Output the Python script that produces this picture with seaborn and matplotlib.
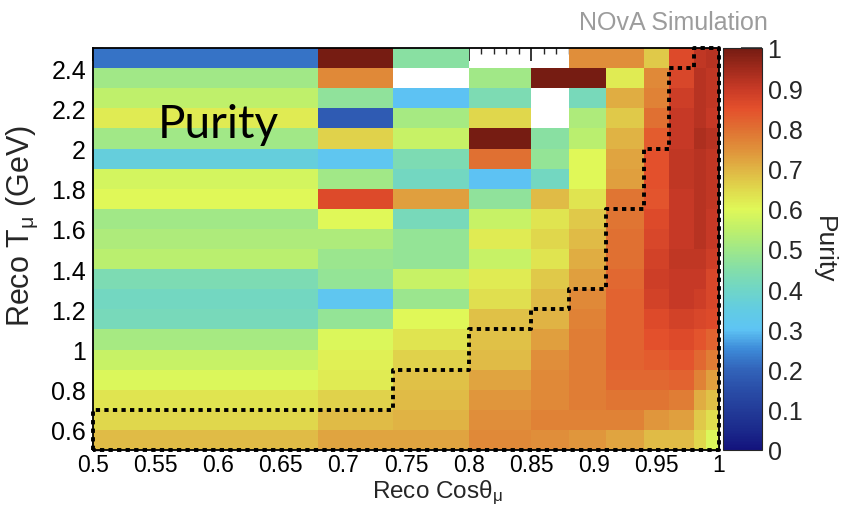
import numpy as np
import pandas as pd
import matplotlib
matplotlib.use("Agg")
import matplotlib.pyplot as plt
import seaborn as sns

# ---------------- data ----------------
# bin edges (Reco cos theta_mu), non-uniform
x_edges = [0.50, 0.68, 0.74, 0.80, 0.85, 0.88, 0.91, 0.94, 0.96, 0.98, 0.99, 1.00]
# bin edges (Reco T_mu in GeV)
y_edges = [0.5, 0.6, 0.7, 0.8, 0.9, 1.0, 1.1, 1.2, 1.3, 1.4, 1.5, 1.6, 1.7, 1.8,
           1.9, 2.0, 2.1, 2.2, 2.3, 2.4, 2.5]

nan = np.nan
# purity per bin, rows from top (2.4-2.5 GeV) to bottom (0.5-0.6 GeV)
purity_rows = [
    [0.22, 1.00, 0.46, nan,  nan,  0.75, 0.75, 0.67, 0.86, 0.91, 0.92],
    [0.50, 0.76, nan,  0.50, 1.00, 1.00, 0.62, 0.76, 0.87, 0.92, 0.91],
    [0.55, 0.47, 0.30, 0.43, nan,  0.42, 0.71, 0.77, 0.89, 0.92, 0.91],
    [0.62, 0.18, 0.51, 0.65, nan,  0.52, 0.67, 0.80, 0.90, 0.92, 0.90],
    [0.50, 0.66, 0.56, 1.00, 0.46, 0.54, 0.70, 0.83, 0.90, 0.93, 0.92],
    [0.36, 0.31, 0.43, 0.80, 0.48, 0.60, 0.72, 0.85, 0.91, 0.92, 0.91],
    [0.58, 0.50, 0.41, 0.30, 0.41, 0.60, 0.73, 0.85, 0.91, 0.92, 0.91],
    [0.60, 0.86, 0.73, 0.47, 0.69, 0.63, 0.79, 0.84, 0.90, 0.92, 0.91],
    [0.50, 0.60, 0.42, 0.56, 0.63, 0.67, 0.79, 0.86, 0.90, 0.92, 0.90],
    [0.52, 0.52, 0.48, 0.62, 0.65, 0.69, 0.80, 0.87, 0.90, 0.92, 0.90],
    [0.54, 0.49, 0.48, 0.56, 0.63, 0.71, 0.80, 0.88, 0.91, 0.91, 0.89],
    [0.43, 0.48, 0.56, 0.62, 0.67, 0.73, 0.81, 0.89, 0.90, 0.90, 0.87],
    [0.41, 0.31, 0.49, 0.64, 0.69, 0.76, 0.82, 0.88, 0.90, 0.89, 0.87],
    [0.42, 0.48, 0.60, 0.68, 0.70, 0.77, 0.82, 0.86, 0.88, 0.87, 0.86],
    [0.51, 0.59, 0.63, 0.68, 0.73, 0.78, 0.82, 0.85, 0.86, 0.84, 0.82],
    [0.56, 0.61, 0.66, 0.69, 0.75, 0.78, 0.82, 0.83, 0.84, 0.81, 0.78],
    [0.59, 0.62, 0.68, 0.72, 0.76, 0.78, 0.81, 0.81, 0.82, 0.77, 0.73],
    [0.63, 0.66, 0.69, 0.74, 0.76, 0.78, 0.79, 0.79, 0.78, 0.71, 0.68],
    [0.65, 0.69, 0.70, 0.75, 0.77, 0.77, 0.77, 0.74, 0.73, 0.67, 0.64],
    [0.69, 0.72, 0.72, 0.76, 0.75, 0.74, 0.72, 0.69, 0.69, 0.65, 0.59],
]

# selection boundary (dotted step contour), in physical units
cut_x = [0.50, 0.50, 0.74, 0.74, 0.80, 0.80, 0.85, 0.85, 0.88, 0.88, 0.91, 0.91,
         0.94, 0.94, 0.96, 0.96, 0.98, 0.98, 1.00, 1.00, 0.50]
cut_y = [0.5, 0.7, 0.7, 0.9, 0.9, 1.1, 1.1, 1.2, 1.2, 1.3, 1.3, 1.7,
         1.7, 2.0, 2.0, 2.4, 2.4, 2.5, 2.5, 0.5, 0.5]

x_major = [0.5, 0.55, 0.6, 0.65, 0.7, 0.75, 0.8, 0.85, 0.9, 0.95, 1.0]
x_major_labels = ["0.5", "0.55", "0.6", "0.65", "0.7", "0.75", "0.8", "0.85", "0.9", "0.95", "1"]
y_major = [0.6, 0.8, 1.0, 1.2, 1.4, 1.6, 1.8, 2.0, 2.2, 2.4]
y_major_labels = ["0.6", "0.8", "1", "1.2", "1.4", "1.6", "1.8", "2", "2.2", "2.4"]
cbar_ticks = [0, 0.1, 0.2, 0.3, 0.4, 0.5, 0.6, 0.7, 0.8, 0.9, 1.0]

palette_colors = ["#13137d", "#1b2a8c", "#233c99", "#2a4ea8", "#3264ba", "#3d8ad8",
                  "#5ec4f4", "#62cce2", "#70d6c6", "#84dea8", "#a0e888", "#c0f06a",
                  "#e0f858", "#e0d84c", "#e0b444", "#e0903a", "#e07032", "#e4502c",
                  "#c83a26", "#a02a1c", "#761c12"]

# ---------------- style ----------------
sns.set_style("ticks")
plt.rcParams["font.family"] = ["Liberation Sans", "DejaVu Sans"]
plt.rcParams["mathtext.fontset"] = "custom"
plt.rcParams["mathtext.rm"] = "Liberation Sans"
plt.rcParams["mathtext.it"] = "Liberation Sans:italic"
plt.rcParams["mathtext.sf"] = "Liberation Sans"

cmap = sns.blend_palette(palette_colors, as_cmap=True)

# expand the non-uniform bins onto a uniform 0.01 grid (repeat values, no interpolation)
step = 0.01
widths = np.rint(np.diff(x_edges) / step).astype(int)
values = np.array(purity_rows, dtype=float)
grid = np.repeat(values, widths, axis=1)
fine_x = np.round(np.arange(x_edges[0], x_edges[-1] - step / 2, step), 2)
row_labels = [f"{y_edges[-1 - i] - 0.05:.2f}" for i in range(len(purity_rows))]
df = pd.DataFrame(grid, index=row_labels, columns=fine_x)

# mapping from physical axis values to heatmap cell coordinates
x_lo, x_hi = x_edges[0], x_edges[-1]
y_lo, y_hi = y_edges[0], y_edges[-1]
nx, ny = grid.shape[1], grid.shape[0]


def fx(v):
    return (np.asarray(v) - x_lo) / (x_hi - x_lo) * nx


def fy(v):
    return (y_hi - np.asarray(v)) / (y_hi - y_lo) * ny


W, H = 842, 510
top_px, bot_px = 49, 451
fig = plt.figure(figsize=(W / 100, H / 100), dpi=100)
ax = fig.add_axes([93 / W, 1 - bot_px / H, (719 - 93) / W, (bot_px - top_px) / H])
cax = fig.add_axes([723 / W, 1 - bot_px / H, (762 - 723) / W, (bot_px - top_px) / H])

sns.heatmap(df, ax=ax, cbar_ax=cax, cmap=cmap, vmin=0, vmax=1,
            xticklabels=False, yticklabels=False,
            cbar_kws={"ticks": cbar_ticks})

# frame
for s in ax.spines.values():
    s.set_visible(True)
    s.set_linewidth(1.3)
    s.set_color("black")

# ticks (ROOT style: inside, all four sides)
ax.set_xticks(fx(x_major))
ax.set_xticklabels(x_major_labels)
ax.set_xticks(fx(np.arange(0.5, 1.0001, 0.01)), minor=True)
ax.set_yticks(fy(y_major))
ax.set_yticklabels(y_major_labels)
ax.set_yticks(fy(np.arange(0.5, 2.5001, 0.05)), minor=True)
ax.tick_params(axis="x", which="major", direction="in", length=9, width=1.1,
               top=True, bottom=True, labelsize=16.5, pad=2.5, colors="black")
ax.tick_params(axis="x", which="minor", direction="in", length=4.5, width=1.0,
               top=True, bottom=True)
ax.tick_params(axis="y", which="major", direction="in", length=15, width=1.1,
               left=True, right=True, labelsize=18, pad=5, colors="black")
ax.tick_params(axis="y", which="minor", direction="in", length=7.5, width=1.0,
               left=True, right=True)
ax.tick_params(labelrotation=0)

# dotted selection contour
ax.plot(fx(cut_x), fy(cut_y), color="black", lw=2.8,
        linestyle=(0, (1.1, 1.1)), clip_on=False, zorder=5)

# axis titles
ax.set_xlabel(r"Reco Cos$\mathrm{\theta_{\mu}}$", fontsize=17.5)
ax.xaxis.set_label_coords(0.55, -(479 - bot_px) / (bot_px - top_px))
ax.set_ylabel(r"Reco T$_{\mathrm{\mu}}$ (GeV)", fontsize=22)
ax.yaxis.set_label_coords(-0.085, 0.56)

# in-plot label
ax.text(0.103, 0.81, "Purity", transform=ax.transAxes, fontsize=33,
        family=["Lato", "DejaVu Sans"], va="center", ha="left", color="black")

# colour bar
cbar = ax.collections[0].colorbar
cbar.outline.set_linewidth(0.8)
cbar.set_ticks(cbar_ticks)
cbar.set_ticklabels([f"{t:g}" for t in cbar_ticks])
cax.tick_params(axis="y", direction="in", length=15, width=1.1, right=True,
                left=False, labelsize=18, pad=4)
cbar.set_label("Purity", fontsize=19, rotation=-90, labelpad=24)

fig.text(768 / W, 1 - 23 / H, "NOvA Simulation", ha="right", va="center",
         fontsize=18, color="#9c9c9c",
         family=["Liberation Sans Narrow", "Liberation Sans", "DejaVu Sans"])

fig.savefig("out.png", dpi=100)
